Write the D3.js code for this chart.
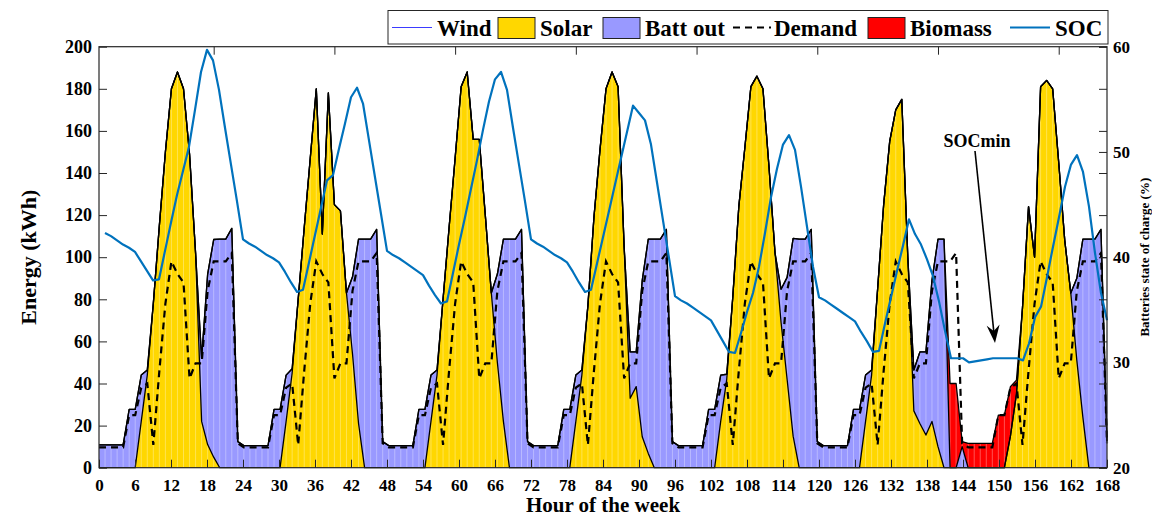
<!DOCTYPE html>
<html>
<head>
<meta charset="utf-8">
<script src="https://cdn.jsdelivr.net/npm/d3@7"></script>
<style>
  body { margin: 0; background: #fff; }
  svg { display: block; }
  text { font-family: "Liberation Serif", "Times New Roman", serif; font-weight: bold; fill: #000; }
</style>
</head>
<body>
<svg id="chart" width="1152" height="516"></svg>
<script>
// ---- tick labels -------------------------------------------------------
const hourTicks = [0,6,12,18,24,30,36,42,48,54,60,66,72,78,84,90,96,102,108,114,120,126,132,138,144,150,156,162,168];
const sampleTicks = [20,40,60,80,100,120,140,160];
const energyTicks = [0,20,40,60,80,100,120,140,160,180,200];
const socTicks = [20,30,40,50,60];

// ---- hourly energy flows (kWh), 168 samples ----------------------------
const wind = [
  0,0,0,0,0,0,0,0,0,0,0,0,0,0,0,0,0,0,0,0,0,0,0,0,
  0,0,0,0,0,0,0,0,0,0,0,0,0,0,0,0,0,0,0,0,0,0,0,0,
  0,0,0,0,0,0,0,0,0,0,0,0,0,0,0,0,0,0,0,0,0,0,0,0,
  0,0,0,0,0,0,0,0,0,0,0,0,0,0,0,0,0,0,0,0,0,0,0,0,
  0,0,0,0,0,0,0,0,0,0,0,0,0,0,0,0,0,0,0,0,0,0,0,0,
  0,0,0,0,0,0,0,0,0,0,0,0,0,0,0,0,0,0,0,0,0,0,0,0,
  0,0,0,0,0,0,0,0,0,0,0,0,0,0,0,0,0,0,0,0,0,0,0,0
];
const solar = [
  0,0,0,0,0,0,0,22,44,78,115,150,180,188,180,149,102,22,11,5,0,0,0,0,
  0,0,0,0,0,0,0,22,45,80,114,147,180,111,178,125,122,83,54,21,0,0,0,0,
  0,0,0,0,0,0,0,22,44,80,114,147,181,188,156,156,120,83,50,22,0,0,0,0,
  0,0,0,0,0,0,0,22,44,77,119,151,180,188,181,105,33,38.5,14.7,6.8,0,0,0,0,
  0,0,0,0,0,0,0,22,42,81,124,152,181,186,180,143,102,69,42,15,0,0,0,0,
  0,0,0,0,0,0,0,22,44,85,125,155,170,175,100,27,21,15.5,22,10,0,0,0,0,
  0,0,0,0,0,0,0,15,35,76,124,100,181,184,180,145,108,83,51,24,0,0,0,0
];
const battOut = [
  10.8,10.8,10.8,10.8,10.8,27.7,27.7,22,2.4,0,0,0,0,0,0,0,0,30,81,103.4,108.6,108.6,113.7,12.4,
  10.5,10.5,10.5,10.5,10.5,27.7,27.7,22,2,0,0,0,0,0,0,0,0,0,36.7,87.6,108.6,108.6,113.2,12.4,
  10.5,10.5,10.5,10.5,10.5,27.7,27.7,22,2.4,0,0,0,0,0,0,0,0,0,42,86.6,108.6,108.6,113.2,12.4,
  10.5,10.5,10.5,10.5,10.5,27.7,27.7,22,2.4,0,0,0,0,0,0,0,22,16.5,74.3,101.8,108.6,108.6,113.2,12.4,
  10.5,10.5,10.5,10.5,10.5,27.7,27.7,22,2.4,0,0,0,0,0,0,0,0,15.8,48.4,93.9,108.6,108.6,113.2,12.4,
  10.5,10.5,10.5,10.5,10.5,27.7,27.7,22,2.4,0,0,0,0,0,0,19.4,34,39.5,67,98.6,108.6,0,0,10,
  0,0,0,0,0,0,0,0,0,0,0,0,0,0,0,0,0,0,39,84.6,108.6,108.6,113.2,12.4
];
const biomass = [
  0,0,0,0,0,0,0,0,0,0,0,0,0,0,0,0,0,0,0,0,0,0,0,0,
  0,0,0,0,0,0,0,0,0,0,0,0,0,0,0,0,0,0,0,0,0,0,0,0,
  0,0,0,0,0,0,0,0,0,0,0,0,0,0,0,0,0,0,0,0,0,0,0,0,
  0,0,0,0,0,0,0,0,0,0,0,0,0,0,0,0,0,0,0,0,0,0,0,0,
  0,0,0,0,0,0,0,0,0,0,0,0,0,0,0,0,0,0,0,0,0,0,0,0,
  0,0,0,0,0,0,0,0,0,0,0,0,0,0,0,0,0,0,0,0,0,40,40,2.4,
  11.6,11.6,11.6,11.6,11.6,25,25,23.5,6.6,0,0,0,0,0,0,0,0,0,0,0,0,0,0,0
];
const demand = [
  9.7,9.7,9.7,9.7,9.7,25,25,38,40,10.8,46,78,98,92,88,42.4,49.6,49.6,84,98,98,98,102,11.6,
  9.7,9.7,9.7,9.7,9.7,25,25,38,40,10.8,46,78,98,92,88,42.4,49.6,49.6,84,98,98,98,102,11.6,
  9.7,9.7,9.7,9.7,9.7,25,25,38,40,10.8,46,78,98,92,88,42.4,49.6,49.6,84,98,98,98,102,11.6,
  9.7,9.7,9.7,9.7,9.7,25,25,38,40,10.8,46,78,98,92,88,42.4,49.6,49.6,84,98,98,98,102,11.6,
  9.7,9.7,9.7,9.7,9.7,25,25,38,40,10.8,46,78,98,92,88,42.4,49.6,49.6,84,98,98,98,102,11.6,
  9.7,9.7,9.7,9.7,9.7,25,25,38,40,10.8,46,78,98,92,88,42.4,49.6,49.6,84,98,98,98,102,11.6,
  9.7,9.7,9.7,9.7,9.7,25,25,38,40,10.8,46,78,98,92,88,42.4,49.6,49.6,84,98,98,98,102,11.6
];

// ---- battery state of charge (%), hours 1..168 -------------------------
const soc = [
  42.3,42.0,41.6,41.2,40.9,40.5,39.6,38.7,37.8,37.9,40.6,43.3,45.9,48.2,50.5,54.0,57.6,59.7,58.7,55.9,52.3,48.8,45.3,41.7,
  41.3,41.0,40.6,40.2,39.9,39.5,38.6,37.6,36.7,36.9,39.5,42.1,44.7,47.3,47.8,50.3,52.7,55.2,56.1,54.6,51.1,47.6,44.1,40.6,
  40.2,39.9,39.5,39.1,38.7,38.3,37.3,36.4,35.6,35.8,38.5,41.2,43.8,46.5,49.2,52.1,54.8,56.9,57.6,55.9,52.3,48.8,45.3,41.7,
  41.3,41.0,40.6,40.2,39.9,39.5,38.6,37.6,36.7,36.9,39.4,41.9,44.4,46.9,49.4,51.9,54.4,53.7,53.0,50.7,47.1,43.5,39.9,36.3,
  35.9,35.6,35.2,34.8,34.4,34.0,33.0,32.0,31.0,30.9,32.8,34.8,36.6,39.1,42.3,45.7,48.4,50.7,51.6,50.2,46.7,42.9,39.1,36.2,
  35.9,35.5,35.1,34.7,34.3,33.9,32.9,32.0,31.0,31.1,33.7,36.2,38.7,41.1,43.6,42.2,41.2,39.8,38.2,35.8,33.0,30.4,30.4,30.4,
  30.0,30.1,30.2,30.3,30.4,30.4,30.4,30.4,30.4,30.2,31.8,34.3,35.3,38.1,41.0,43.8,46.7,48.8,49.7,48.1,44.8,40.4,36.6,34.0
];

// ---- layout -------------------------------------------------------------
const X0 = 99, X1 = 1107, YB = 467.7, YT = 46.7;
const AXIS = '#262626';
const svg = d3.select('#chart');

// bottom axis counts hours 0..168; the energy series are sampled 1..168
const xHour = d3.scaleLinear().domain([0, 168]).range([X0, X1]);
const xSample = d3.scaleLinear().domain([1, 168]).range([X0, X1]);
const yEnergy = d3.scaleLinear().domain([0, 200]).range([YB, YT]);
const ySoc = d3.scaleLinear().domain([20, 60]).range([YB, YT]);

const colors = { wind: '#3b3bff', solar: '#FFD700', batt: '#9999FF', biomass: '#FF0000' };
const rows = solar.map((_, i) => ({
  sample: i + 1, wind: wind[i], solar: solar[i], batt: battOut[i], biomass: biomass[i], demand: demand[i]
}));
const stacked = d3.stack().keys(['wind', 'solar', 'batt', 'biomass'])(rows);

const area = d3.area()
  .x(d => xSample(d.data.sample))
  .y0(d => yEnergy(d[0]))
  .y1(d => yEnergy(d[1]));
const edge = d3.line()
  .x(d => xSample(d.data.sample))
  .y(d => yEnergy(d[1]));

const plot = svg.append('g');

// filled stacked areas
stacked.forEach(layer => {
  plot.append('path').datum(layer).attr('d', area).attr('fill', colors[layer.key]);
});

// faint seams at every sample inside the fills
stacked.forEach(layer => {
  plot.append('g').selectAll('line')
    .data(layer.filter(d => d[1] - d[0] > 0.3))
    .join('line')
    .attr('x1', d => xSample(d.data.sample)).attr('x2', d => xSample(d.data.sample))
    .attr('y1', d => yEnergy(d[0])).attr('y2', d => yEnergy(d[1]))
    .attr('stroke', '#fff').attr('stroke-opacity', 0.4).attr('stroke-width', 0.8);
});

// black outline along the top of each layer
stacked.filter(l => l.key !== 'wind').forEach(layer => {
  plot.append('path').datum(layer).attr('d', edge)
    .attr('fill', 'none').attr('stroke', '#000').attr('stroke-width', 1.3)
    .attr('stroke-linejoin', 'round');
});

// demand
plot.append('path').datum(rows)
  .attr('d', d3.line().x(d => xSample(d.sample)).y(d => yEnergy(d.demand)))
  .attr('fill', 'none').attr('stroke', '#000').attr('stroke-width', 2.2)
  .attr('stroke-dasharray', '7,5');

// state of charge on the right axis
plot.append('path').datum(soc)
  .attr('d', d3.line().x((d, i) => xHour(i + 1)).y(d => ySoc(d)))
  .attr('fill', 'none').attr('stroke', '#0072BD').attr('stroke-width', 2.2)
  .attr('stroke-linejoin', 'round');

// ---- axes -----------------------------------------------------------------
function styleAxis(g, fontSize) {
  g.select('.domain').remove();
  g.selectAll('.tick line').attr('stroke', AXIS).attr('stroke-width', 1);
  g.selectAll('.tick text').attr('font-size', fontSize)
    .attr('font-family', '"Liberation Serif", "Times New Roman", serif')
    .attr('font-weight', 'bold').attr('fill', '#000');
}

svg.append('g').attr('transform', `translate(0,${YB})`)
  .call(d3.axisBottom(xHour).tickValues(hourTicks).tickSizeInner(-8).tickSizeOuter(0).tickPadding(11))
  .call(g => styleAxis(g, 17));

svg.append('g').attr('transform', `translate(0,${YT})`)
  .call(d3.axisTop(xSample).tickValues(sampleTicks).tickSizeInner(-8).tickSizeOuter(0).tickFormat(''))
  .call(g => styleAxis(g, 17));

svg.append('g').attr('transform', `translate(${X0},0)`)
  .call(d3.axisLeft(yEnergy).tickValues(energyTicks).tickSizeInner(-8).tickSizeOuter(0).tickPadding(7))
  .call(g => styleAxis(g, 18));

svg.append('g').attr('transform', `translate(${X1},0)`)
  .call(d3.axisRight(yEnergy).tickValues(energyTicks).tickSizeInner(-8).tickSizeOuter(0).tickFormat(''))
  .call(g => styleAxis(g, 18));

svg.append('g').attr('transform', `translate(${X1},0)`)
  .call(d3.axisRight(ySoc).tickValues(socTicks).tickSizeInner(-8).tickSizeOuter(0).tickPadding(6))
  .call(g => styleAxis(g, 17));

svg.append('rect')
  .attr('x', X0).attr('y', YT).attr('width', X1 - X0).attr('height', YB - YT)
  .attr('fill', 'none').attr('stroke', AXIS).attr('stroke-width', 1.2);

// axis titles
svg.append('text').attr('x', (X0 + X1) / 2).attr('y', 512)
  .attr('text-anchor', 'middle').attr('font-size', 21).text('Hour of the week');
svg.append('text').attr('transform', `translate(36,${(YT + YB) / 2}) rotate(-90)`)
  .attr('text-anchor', 'middle').attr('font-size', 22).text('Energy (kWh)');
svg.append('text').attr('transform', `translate(1149,${(YT + YB) / 2}) rotate(-90)`)
  .attr('text-anchor', 'middle').attr('font-size', 13).text('Batteries state of charge (%)');

// ---- SOCmin annotation ----------------------------------------------------
svg.append('text').attr('x', 977).attr('y', 147).attr('text-anchor', 'middle')
  .attr('font-size', 18).text('SOCmin');
const tip = [995, 343], tail = [975, 151];
const ang = Math.atan2(tip[1] - tail[1], tip[0] - tail[0]);
const headLen = 18, headW = 6.5, back = 12;
const pt = (l, w) => [tip[0] - l * Math.cos(ang) - w * Math.sin(ang), tip[1] - l * Math.sin(ang) + w * Math.cos(ang)];
svg.append('line').attr('x1', tail[0]).attr('y1', tail[1]).attr('x2', pt(back, 0)[0]).attr('y2', pt(back, 0)[1])
  .attr('stroke', '#000').attr('stroke-width', 1.6);
svg.append('path').attr('d', d3.line()([tip, pt(headLen, headW), pt(back, 0), pt(headLen, -headW)]) + 'Z')
  .attr('fill', '#000');

// ---- legend -----------------------------------------------------------------
const lg = svg.append('g');
lg.append('rect').attr('x', 388).attr('y', 10.5).attr('width', 720).attr('height', 33.5)
  .attr('fill', '#fff').attr('stroke', AXIS).attr('stroke-width', 1);
const LY = 27.5, fs = 23;
const legendItems = [
  { kind: 'line', x: 392, color: colors.wind, width: 1, label: 'Wind', tx: 437 },
  { kind: 'box', x: 498, color: colors.solar, label: 'Solar', tx: 540 },
  { kind: 'box', x: 603, color: colors.batt, label: 'Batt out', tx: 645 },
  { kind: 'dash', x: 733, label: 'Demand', tx: 774 },
  { kind: 'box', x: 868, color: colors.biomass, label: 'Biomass', tx: 910 },
  { kind: 'line', x: 1010, color: '#0072BD', width: 2, label: 'SOC', tx: 1055 }
];
legendItems.forEach(it => {
  if (it.kind === 'line') {
    lg.append('line').attr('x1', it.x).attr('x2', it.x + 40).attr('y1', LY).attr('y2', LY)
      .attr('stroke', it.color).attr('stroke-width', it.width);
  } else if (it.kind === 'box') {
    lg.append('rect').attr('x', it.x).attr('y', LY - 10).attr('width', 37).attr('height', 21)
      .attr('fill', it.color).attr('stroke', '#222').attr('stroke-width', 1);
  } else {
    lg.append('line').attr('x1', it.x).attr('x2', it.x + 38).attr('y1', LY).attr('y2', LY)
      .attr('stroke', '#000').attr('stroke-width', 2).attr('stroke-dasharray', '7,5');
  }
  lg.append('text').attr('x', it.tx).attr('y', LY + 8).attr('font-size', fs).text(it.label);
});
</script>
</body>
</html>
